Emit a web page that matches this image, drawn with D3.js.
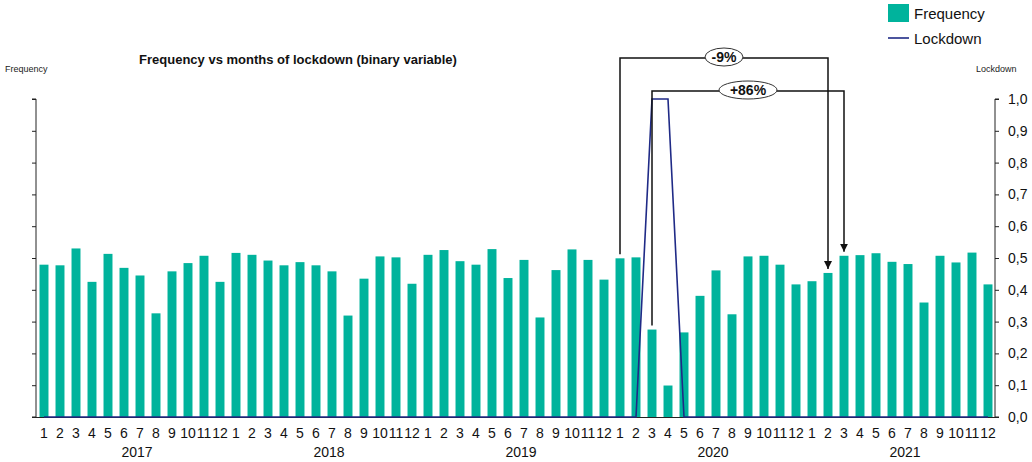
<!DOCTYPE html>
<html><head><meta charset="utf-8">
<script src="https://cdn.jsdelivr.net/npm/d3@7"></script>
<style>
html,body{margin:0;padding:0;background:#fff;}
svg{display:block;font-family:"Liberation Sans",Arial,sans-serif;}
</style></head>
<body>
<svg id="chart" width="1032" height="462"></svg>
<script>
const years = ["2017","2018","2019","2020","2021"];
const months = ["1","2","3","4","5","6","7","8","9","10","11","12"];
const frequency = [
  0.479,0.477,0.530,0.425,0.513,0.469,0.445,0.326,0.458,0.484,0.507,0.425,
  0.516,0.510,0.492,0.477,0.487,0.477,0.458,0.319,0.435,0.505,0.502,0.419,
  0.510,0.525,0.490,0.479,0.528,0.437,0.494,0.313,0.462,0.527,0.494,0.432,
  0.499,0.502,0.275,0.099,0.266,0.381,0.461,0.323,0.505,0.507,0.479,0.417,
  0.427,0.453,0.507,0.509,0.515,0.488,0.481,0.360,0.507,0.486,0.517,0.417
];
const lockdown = [
  0,0,0,0,0,0,0,0,0,0,0,0,
  0,0,0,0,0,0,0,0,0,0,0,0,
  0,0,0,0,0,0,0,0,0,0,0,0,
  0,0,1,1,0,0,0,0,0,0,0,0,
  0,0,0,0,0,0,0,0,0,0,0,0
];
const rightTicks = [0,0.1,0.2,0.3,0.4,0.5,0.6,0.7,0.8,0.9,1.0];
// annotations: from (year-month) to (year-month), label
const annotations = [
  {from:"2020-1", to:"2021-2", label:"-9%"},
  {from:"2020-3", to:"2021-3", label:"+86%"}
];

(function(){
const keys = [];
years.forEach(yr => months.forEach(m => keys.push(yr + "-" + m)));
const data = keys.map((k,i) => ({key:k, year:k.split("-")[0], month:k.split("-")[1], freq:frequency[i], lock:lockdown[i]}));

const svg = d3.select("#chart");
const pLeft = 36, pRight = 996, pTop = 99, pBottom = 417;

const x = d3.scaleBand().domain(keys).range([pLeft,pRight]).paddingInner(0.44).paddingOuter(0.22);
const y = d3.scaleLinear().domain([0,1]).range([pBottom,pTop]);
const cx = k => x(k) + x.bandwidth()/2;

// bars
svg.append("g").selectAll("rect").data(data).join("rect")
  .attr("x", d => x(d.key)).attr("width", x.bandwidth())
  .attr("y", d => y(d.freq)).attr("height", d => y(0) - y(d.freq))
  .attr("fill", "#00b39c");

// left axis (no labels)
const gl = svg.append("g").attr("transform", `translate(${pLeft},0)`)
  .call(d3.axisLeft(y).tickValues(rightTicks).tickSize(4).tickFormat(""));
gl.select(".domain").attr("stroke","#222").attr("d", `M-4,${pTop}H0V${pBottom}H-4`);
gl.selectAll(".tick line").attr("stroke","#222");

// right axis
const fmt = d => d3.format(".1f")(d).replace(".", ",");
const gr = svg.append("g").attr("transform", `translate(${pRight-1},0)`)
  .call(d3.axisRight(y).tickValues(rightTicks).tickSize(4).tickPadding(9).tickFormat(fmt));
gr.select(".domain").attr("stroke","#222").attr("d", `M4,${pTop}H0V${pBottom}H4`);
gr.selectAll(".tick line").attr("stroke","#222");
gr.selectAll(".tick text").attr("font-size", 14).attr("fill","#111")
  .attr("font-family", '"Liberation Sans",Arial,sans-serif');

// x axis baseline
svg.append("line").attr("x1", pLeft-4).attr("x2", pRight-1).attr("y1", pBottom+0.5).attr("y2", pBottom+0.5)
  .attr("stroke","#222").attr("stroke-width",1);

// lockdown line
const line = d3.line().x(d => cx(d.key)).y(d => y(d.lock));
svg.append("path").datum(data).attr("d", line)
  .attr("fill","none").attr("stroke","#1f2a86").attr("stroke-width",1.6);

// month labels
svg.append("g").selectAll("text").data(data).join("text")
  .attr("x", d => cx(d.key)).attr("y", 438)
  .attr("text-anchor","middle").attr("font-size",14).attr("fill","#111")
  .text(d => d.month);

// year labels
svg.append("g").selectAll("text").data(years).join("text")
  .attr("x", yr => (cx(yr+"-1") + cx(yr+"-12"))/2 + 5).attr("y", 457)
  .attr("text-anchor","middle").attr("font-size",14).attr("fill","#111")
  .text(yr => yr);

// title and axis titles
svg.append("text").attr("x", 298).attr("y", 64).attr("text-anchor","middle")
  .attr("font-size",13).attr("font-weight","bold").attr("fill","#111")
  .text("Frequency vs months of lockdown (binary variable)");
svg.append("text").attr("x", 5).attr("y", 72).attr("font-size",9).attr("fill","#222").text("Frequency");
svg.append("text").attr("x", 976).attr("y", 72).attr("font-size",9).attr("fill","#222").text("Lockdown");

// legend
svg.append("rect").attr("x",888).attr("y",4).attr("width",21).attr("height",18).attr("fill","#00b39c");
svg.append("text").attr("x",914).attr("y",19).attr("font-size",15).attr("fill","#111").text("Frequency");
svg.append("line").attr("x1",888).attr("x2",909).attr("y1",38).attr("y2",38).attr("stroke","#1f2a86").attr("stroke-width",1.6);
svg.append("text").attr("x",914).attr("y",44).attr("font-size",15).attr("fill","#111").text("Lockdown");

// annotations
const defs = svg.append("defs");
defs.append("marker").attr("id","arrow").attr("viewBox","0 0 10 10").attr("refX",10).attr("refY",5)
  .attr("markerWidth",8).attr("markerHeight",8).attr("markerUnits","userSpaceOnUse").attr("orient","auto")
  .append("path").attr("d","M0,0L10,5L0,10z").attr("fill","#111");

const levels = [pTop - 41, pTop - 8];
const ellW = [38, 58];
const lblX = [724, 748];
annotations.forEach((a, i) => {
  const fi = keys.indexOf(a.from), ti = keys.indexOf(a.to);
  const x1 = cx(a.from), x2 = cx(a.to);
  const y1 = y(frequency[fi]) - 4, y2 = y(frequency[ti]) - 4;
  const ly = levels[i];
  svg.append("path").attr("d", `M${x1},${y1}V${ly}H${x2}V${y2}`)
    .attr("fill","none").attr("stroke","#111").attr("stroke-width",1.5)
    .attr("marker-end","url(#arrow)");
  svg.append("ellipse").attr("cx", lblX[i]).attr("cy", ly - 1).attr("rx", ellW[i]/2).attr("ry", 9)
    .attr("fill","#fff").attr("stroke","#333").attr("stroke-width",1);
  svg.append("text").attr("x", lblX[i]).attr("y", ly + 4).attr("text-anchor","middle")
    .attr("font-size",14).attr("font-weight","bold").attr("fill","#111").text(a.label);
});
})();
</script>
</body></html>
